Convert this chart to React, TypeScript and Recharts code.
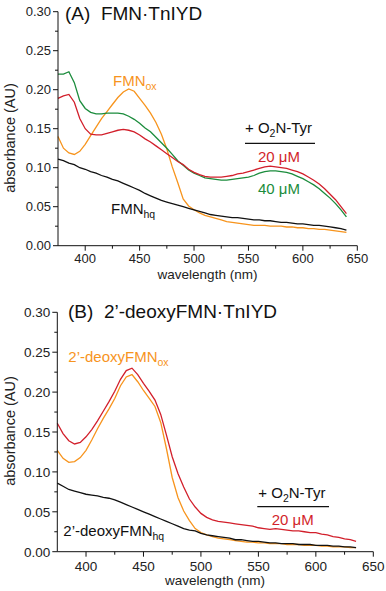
import React from "react";
import { LineChart, Line, XAxis, YAxis } from "recharts";

const FONT = "Arial, 'Liberation Sans', Helvetica, sans-serif";
const ORANGE = "#f7941d";
const RED = "#d21f2b";
const GREEN = "#1b8c3c";
const BLACK = "#111";

// panel A: FMN·TnIYD, 375–640 nm every 5 nm
const wlA = [
  375, 380, 385, 390, 395, 400, 405, 410, 415, 420, 425, 430, 435, 440, 445, 450, 455, 460,
  465, 470, 475, 480, 485, 490, 495, 500, 505, 510, 515, 520, 525, 530, 535, 540, 545, 550,
  555, 560, 565, 570, 575, 580, 585, 590, 595, 600, 605, 610, 615, 620, 625, 630, 635, 640,
];
const fmnOxA = [
  0.140, 0.125, 0.119, 0.117, 0.121, 0.130, 0.141, 0.152, 0.163, 0.172, 0.181, 0.190, 0.197, 0.201, 0.198, 0.189, 0.180, 0.170,
  0.158, 0.143, 0.124, 0.101, 0.081, 0.060, 0.051, 0.046, 0.042, 0.039, 0.037, 0.035, 0.033, 0.031, 0.030, 0.029, 0.028, 0.027,
  0.026, 0.026, 0.026, 0.025, 0.025, 0.025, 0.024, 0.024, 0.023, 0.023, 0.022, 0.022, 0.021, 0.021, 0.020, 0.019, 0.018, 0.017,
];
const fmnHqA = [
  0.111, 0.109, 0.106, 0.104, 0.100, 0.098, 0.095, 0.093, 0.090, 0.088, 0.085, 0.083, 0.080, 0.077, 0.074, 0.071, 0.067, 0.064,
  0.061, 0.058, 0.056, 0.054, 0.052, 0.050, 0.048, 0.046, 0.044, 0.042, 0.040, 0.039, 0.038, 0.037, 0.036, 0.036, 0.035, 0.034,
  0.033, 0.033, 0.032, 0.032, 0.031, 0.030, 0.030, 0.029, 0.028, 0.028, 0.027, 0.026, 0.026, 0.025, 0.024, 0.023, 0.022, 0.020,
];
const tyr20A = [
  0.189, 0.192, 0.194, 0.184, 0.163, 0.150, 0.143, 0.142, 0.142, 0.144, 0.146, 0.148, 0.149, 0.148, 0.146, 0.142, 0.137, 0.133,
  0.128, 0.123, 0.118, 0.113, 0.108, 0.104, 0.098, 0.094, 0.091, 0.089, 0.088, 0.088, 0.088, 0.089, 0.090, 0.092, 0.093, 0.095,
  0.097, 0.099, 0.101, 0.102, 0.101, 0.100, 0.099, 0.097, 0.095, 0.092, 0.088, 0.084, 0.079, 0.073, 0.066, 0.059, 0.050, 0.041,
];
const tyr40A = [
  0.220, 0.220, 0.223, 0.209, 0.186, 0.176, 0.171, 0.169, 0.169, 0.170, 0.170, 0.170, 0.169, 0.166, 0.162, 0.157, 0.151, 0.146,
  0.139, 0.132, 0.125, 0.117, 0.109, 0.103, 0.097, 0.093, 0.090, 0.087, 0.086, 0.085, 0.084, 0.084, 0.085, 0.086, 0.087, 0.088,
  0.090, 0.093, 0.095, 0.096, 0.096, 0.095, 0.094, 0.092, 0.089, 0.086, 0.082, 0.078, 0.073, 0.067, 0.061, 0.054, 0.046, 0.037,
];

// panel B: 2'-deoxyFMN·TnIYD, 375–635 nm every 5 nm
const wlB = [
  375, 380, 385, 390, 395, 400, 405, 410, 415, 420, 425, 430, 435, 440, 445, 450, 455, 460,
  465, 470, 475, 480, 485, 490, 495, 500, 505, 510, 515, 520, 525, 530, 535, 540, 545, 550,
  555, 560, 565, 570, 575, 580, 585, 590, 595, 600, 605, 610, 615, 620, 625, 630, 635,
];
const deoxyOxB = [
  0.127, 0.117, 0.112, 0.113, 0.118, 0.127, 0.140, 0.154, 0.167, 0.179, 0.192, 0.208, 0.219, 0.222, 0.213, 0.202, 0.192, 0.182,
  0.162, 0.129, 0.093, 0.068, 0.051, 0.039, 0.029, 0.024, 0.021, 0.019, 0.017, 0.016, 0.015, 0.014, 0.013, 0.012, 0.012, 0.011,
  0.011, 0.010, 0.010, 0.010, 0.009, 0.009, 0.009, 0.008, 0.008, 0.008, 0.007, 0.007, 0.006, 0.006, 0.006, 0.005, 0.005,
];
const deoxyHqB = [
  0.086, 0.082, 0.078, 0.076, 0.074, 0.072, 0.071, 0.070, 0.068, 0.067, 0.065, 0.062, 0.059, 0.056, 0.053, 0.050, 0.047, 0.044,
  0.041, 0.038, 0.035, 0.032, 0.029, 0.027, 0.026, 0.023, 0.021, 0.020, 0.019, 0.018, 0.017, 0.015, 0.015, 0.014, 0.013, 0.013,
  0.012, 0.011, 0.011, 0.010, 0.010, 0.010, 0.009, 0.009, 0.009, 0.008, 0.008, 0.008, 0.007, 0.007, 0.006, 0.006, 0.005,
];
const tyr20B = [
  0.161, 0.148, 0.139, 0.135, 0.137, 0.144, 0.153, 0.164, 0.176, 0.188, 0.201, 0.216, 0.227, 0.230, 0.222, 0.211, 0.201, 0.190,
  0.172, 0.146, 0.119, 0.098, 0.081, 0.066, 0.056, 0.048, 0.043, 0.040, 0.038, 0.037, 0.036, 0.035, 0.034, 0.033, 0.032, 0.030,
  0.029, 0.028, 0.029, 0.028, 0.027, 0.026, 0.026, 0.025, 0.024, 0.024, 0.022, 0.021, 0.019, 0.018, 0.016, 0.015, 0.013,
];

const xTicks = [375, 400, 425, 450, 475, 500, 525, 550, 575, 600, 625, 650];
const xLabels = [400, 450, 500, 550, 600, 650];
const yTicks = [0, 0.025, 0.05, 0.075, 0.1, 0.125, 0.15, 0.175, 0.2, 0.225, 0.25, 0.275, 0.3];
const yLabels = [0, 0.05, 0.1, 0.15, 0.2, 0.25, 0.3];

const tableA = wlA.map((nm, i) => ({ nm, ox: fmnOxA[i], hq: fmnHqA[i], t20: tyr20A[i], t40: tyr40A[i] }));
const tableB = wlB.map((nm, i) => ({ nm, ox: deoxyOxB[i], hq: deoxyHqB[i], t20: tyr20B[i] }));

function XTick({ x, y, payload, fontSize, dy }: any) {
  const major = xLabels.includes(payload.value);
  if (payload.value === 375) return null;
  return (
    <g>
      <line x1={x} x2={x} y1={y} y2={y + (major ? 5 : 3)} stroke={BLACK} strokeWidth={1} />
      {major && (
        <text x={x} y={y + dy} textAnchor="middle" fontSize={fontSize} fontFamily={FONT} fill="#222">
          {payload.value}
        </text>
      )}
    </g>
  );
}

function YTick({ x, y, payload, fontSize }: any) {
  const major = yLabels.some(v => Math.abs(v - payload.value) < 1e-6);
  return (
    <g>
      <line x1={x} x2={x - (major ? 5 : 3)} y1={y} y2={y} stroke={BLACK} strokeWidth={1} />
      {major && (
        <text x={x - 7} y={y} dy="0.36em" textAnchor="end" fontSize={fontSize} fontFamily={FONT} fill="#222">
          {payload.value.toFixed(2)}
        </text>
      )}
    </g>
  );
}

function Sub({ children }: { children: React.ReactNode }) {
  return <tspan fontSize="0.7em" dy="4">{children}</tspan>;
}

function Panel({ data, series, height, margin, yWidth, fontSize, dy }: any) {
  return (
    <LineChart width={386} height={height} data={data} margin={margin}>
      <XAxis
        dataKey="nm" type="number" domain={[375, 650]} ticks={xTicks} interval={0}
        height={30} tickSize={0} tickMargin={0} tickLine={false}
        axisLine={{ stroke: BLACK, strokeWidth: 1 }}
        tick={(p: any) => <XTick {...p} fontSize={fontSize} dy={dy} />}
      />
      <YAxis
        type="number" domain={[0, 0.3]} ticks={yTicks} interval={0}
        width={yWidth} tickSize={0} tickMargin={0} tickLine={false}
        axisLine={{ stroke: BLACK, strokeWidth: 1 }}
        tick={(p: any) => <YTick {...p} fontSize={fontSize} />}
      />
      {series.map((s: any) => (
        <Line key={s.key} dataKey={s.key} stroke={s.color} strokeWidth={1.3} dot={false}
          type="linear" isAnimationActive={false} />
      ))}
    </LineChart>
  );
}

export default function App() {
  const txt = { fontFamily: FONT } as const;
  return (
    <div style={{ position: "absolute", left: 0, top: 0, width: 386, height: 591, background: "#fff" }}>
      <div style={{ position: "absolute", left: 0, top: 0 }}>
        <Panel
          data={tableA} height={290} yWidth={58} fontSize={13} dy={17.5}
          margin={{ top: 11.7, right: 28.7, bottom: 14.3, left: 0 }}
          series={[
            { key: "ox", color: ORANGE }, { key: "hq", color: BLACK },
            { key: "t40", color: GREEN }, { key: "t20", color: RED },
          ]}
        />
      </div>
      <div style={{ position: "absolute", left: 0, top: 290 }}>
        <Panel
          data={tableB} height={301} yWidth={57.3} fontSize={13.5} dy={19.5}
          margin={{ top: 22.3, right: 12.7, bottom: 9.3, left: 0 }}
          series={[
            { key: "ox", color: ORANGE }, { key: "hq", color: BLACK }, { key: "t20", color: RED },
          ]}
        />
      </div>
      <svg width={386} height={591} style={{ position: "absolute", left: 0, top: 0, pointerEvents: "none" }}>
        {/* panel A */}
        <text x={65} y={19.5} fontSize={19} {...txt} fill="#111" xmlSpace="preserve" style={{ whiteSpace: "pre" }}>(A)  FMN·TnIYD</text>
        <text x={207.5} y={279} fontSize={13.5} textAnchor="middle" {...txt} fill="#222">wavelength (nm)</text>
        <text transform="translate(15,138) rotate(-90)" fontSize={14.5} textAnchor="middle" {...txt} fill="#222">absorbance (AU)</text>
        <text x={113} y={86} fontSize={15} {...txt} fill={ORANGE}>FMN<Sub>ox</Sub></text>
        <text x={111} y={214} fontSize={15} {...txt} fill={BLACK}>FMN<Sub>hq</Sub></text>
        <text x={245} y={133} fontSize={15} {...txt} fill={BLACK}>+ O<Sub>2</Sub><tspan dy="-4">N-Tyr</tspan></text>
        <line x1={245} x2={315} y1={143.3} y2={143.3} stroke={BLACK} strokeWidth={1.2} />
        <text x={258} y={162} fontSize={15} {...txt} fill={RED}>20 μM</text>
        <text x={258} y={194} fontSize={15} {...txt} fill={GREEN}>40 μM</text>

        {/* panel B */}
        <text x={68} y={318.3} fontSize={19} {...txt} fill="#111" xmlSpace="preserve" style={{ whiteSpace: "pre" }}>(B)  2’-deoxyFMN·TnIYD</text>
        <text x={215} y={585} fontSize={13.5} textAnchor="middle" {...txt} fill="#222">wavelength (nm)</text>
        <text transform="translate(15,431) rotate(-90)" fontSize={14.5} textAnchor="middle" {...txt} fill="#222">absorbance (AU)</text>
        <text x={68.3} y={361.5} fontSize={15} {...txt} fill={ORANGE}>2’-deoxyFMN<Sub>ox</Sub></text>
        <text x={63.3} y={536} fontSize={15} {...txt} fill={BLACK}>2’-deoxyFMN<Sub>hq</Sub></text>
        <text x={258.3} y={498} fontSize={15} {...txt} fill={BLACK}>+ O<Sub>2</Sub><tspan dy="-4">N-Tyr</tspan></text>
        <line x1={257.3} x2={329} y1={506.7} y2={506.7} stroke={BLACK} strokeWidth={1.2} />
        <text x={271.7} y={524.5} fontSize={15} {...txt} fill={RED}>20 μM</text>
      </svg>
    </div>
  );
}
